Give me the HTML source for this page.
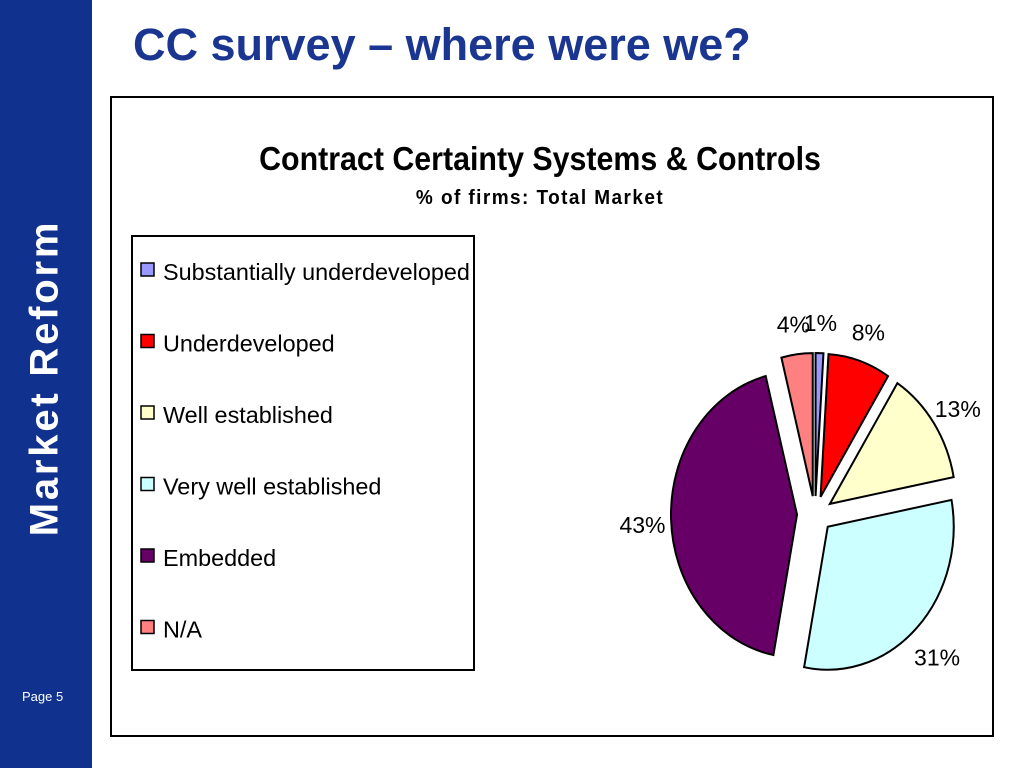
<!DOCTYPE html>
<html><head><meta charset="utf-8"><style>
body{margin:0;width:1024px;height:768px;background:#fff;position:relative;overflow:hidden;font-family:"Liberation Sans",sans-serif}
.a{position:absolute}
</style></head><body>
<div class="a" style="left:0;top:0;width:92px;height:768px;background:#10318e"></div>
<div class="a" style="left:45px;top:378px;transform:translate(-50%,-50%) rotate(-90deg);color:#fff;font-weight:bold;font-size:40px;letter-spacing:2.8px;white-space:nowrap">Market Reform</div>
<div class="a" style="left:22px;top:689px;color:#fff;font-size:13px">Page 5</div>
<div class="a" style="left:133px;top:19px;color:#1a3690;font-weight:bold;font-size:45px;white-space:nowrap">CC survey – where were we?</div>
<div class="a" style="left:110px;top:96px;width:880px;height:637px;border:2px solid #000"></div>
<div class="a" style="left:540px;top:140px;transform:translateX(-50%) scaleX(0.92);font-weight:bold;font-size:33px;white-space:nowrap">Contract Certainty Systems &amp; Controls</div>
<div class="a" style="left:540px;top:187px;transform:translateX(-50%) scaleX(0.95);font-weight:bold;font-size:20px;letter-spacing:1.5px;white-space:nowrap">% of firms: Total Market</div>
<div class="a" style="left:131px;top:235px;width:340px;height:432px;border:2px solid #000"></div>
<svg class="a" style="left:0;top:0" width="1024" height="768" id="svg"></svg>
<script>
const categories=["Substantially underdeveloped","Underdeveloped","Well established","Very well established","Embedded","N/A"];
const values=[1,8,13,31,43,4];
const labels=["1%","8%","13%","31%","43%","4%"];
const colors=["#9999ff","#ff0000","#ffffcc","#ccffff","#660066","#ff8080"];
const svg=document.getElementById('svg');
const NS="http://www.w3.org/2000/svg";
const cx=815,cy=514,rx=126,ry=143,ex=18;
const total=values.reduce((a,b)=>a+b,0);
function pt(ang,r){return [cx+Math.sin(ang)*rx*r, cy-Math.cos(ang)*ry*r];}
let cum=0;
values.forEach((v,i)=>{
  const a0=cum/total*2*Math.PI; cum+=v; const a1=cum/total*2*Math.PI; const am=(a0+a1)/2;
  const dx=Math.sin(am)*ex, dy=-Math.cos(am)*ex;
  const p0=pt(a0,1),p1=pt(a1,1);
  const large=(a1-a0)>Math.PI?1:0;
  const p=document.createElementNS(NS,'path');
  p.setAttribute('d',`M${cx+dx},${cy+dy} L${p0[0]+dx},${p0[1]+dy} A${rx},${ry} 0 ${large} 1 ${p1[0]+dx},${p1[1]+dy} Z`);
  p.setAttribute('fill',colors[i]);p.setAttribute('stroke','#000');p.setAttribute('stroke-width','2');
  
  
  svg.appendChild(p);
  const lp=pt(am,1.37);
  const t=document.createElementNS(NS,'text');
  t.setAttribute('x',lp[0]);t.setAttribute('y',lp[1]+13);t.setAttribute('text-anchor','middle');
  t.setAttribute('font-size','23');t.setAttribute('font-family','Liberation Sans, sans-serif');
  t.textContent=labels[i];
  
  
  svg.appendChild(t);
  const ly=272+i*71.5;
  const r=document.createElementNS(NS,'rect');
  r.setAttribute('x',141);r.setAttribute('y',ly-9);r.setAttribute('width',13);r.setAttribute('height',13);
  r.setAttribute('fill',colors[i]);r.setAttribute('stroke','#000');r.setAttribute('stroke-width','1.5');
  
  
  svg.appendChild(r);
  const lt=document.createElementNS(NS,'text');
  lt.setAttribute('x',163);lt.setAttribute('y',ly+8);lt.setAttribute('font-size','23.4');
  lt.setAttribute('font-family','Liberation Sans, sans-serif');
  lt.textContent=categories[i];
  
  
  svg.appendChild(lt);
});
</script>
</body></html>
